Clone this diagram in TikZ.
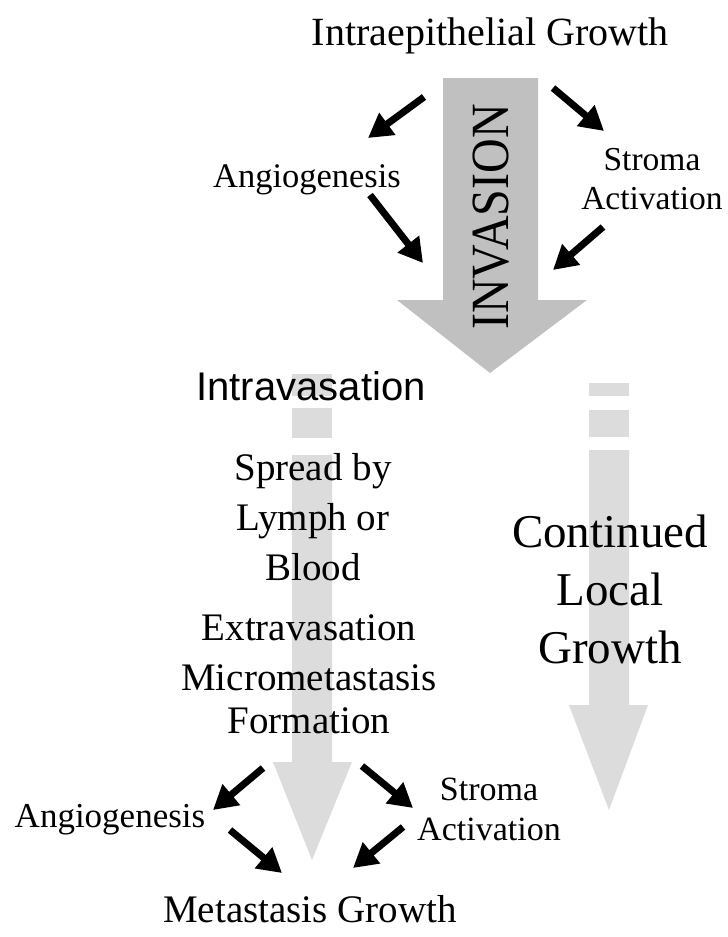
\documentclass[tikz,border=0pt]{standalone}
\usepackage{fontspec}
\setmainfont{Liberation Serif}
\newfontfamily\arialf{Liberation Sans}
\usetikzlibrary{arrows.meta}
\definecolor{biggray}{RGB}{192,192,192}
\definecolor{lightgray2}{RGB}{220,220,220}
\begin{document}
\begin{tikzpicture}[x=1pt,y=-1pt,
  txt/.style={inner sep=0pt, align=center, anchor=base},
  mid/.style={txt, font=\fontsize{39}{50}\selectfont},
  smalltxt/.style={txt, font=\fontsize{33.5}{39}\selectfont},
  bigtxt/.style={txt, font=\fontsize{47}{58}\selectfont},
  blk/.style={line width=7pt, -{Triangle[length=24pt,width=26pt]}},
]
\useasboundingbox (0,0) rectangle (728,937);
\fill[white] (0,0) rectangle (728,937);

% big INVASION arrow
\fill[biggray] (443,78) -- (538,78) -- (538,300) -- (587,300) -- (490,373) -- (397,300) -- (443,300) -- cycle;
\node[inner sep=0pt, rotate=90, font=\fontsize{48}{48}\selectfont] (inv) at (491,217) {\scalebox{1}[1.12]{INVASION}};

% left dashed arrow
\fill[lightgray2] (292,374) rectangle (332,396);
\fill[lightgray2] (292,408) rectangle (332,438);
\fill[lightgray2] (292,455) -- (332,455) -- (332,762) -- (352,762) -- (312,860) -- (273,762) -- (292,762) -- cycle;

% right dashed arrow
\fill[lightgray2] (589,383) rectangle (629,396);
\fill[lightgray2] (589,410) rectangle (629,437);
\fill[lightgray2] (589,450) -- (629,450) -- (629,705) -- (648,705) -- (609,810) -- (569,705) -- (589,705) -- cycle;

% texts
\node[txt, font=\fontsize{40}{46}\selectfont] (top) at (490,45) {Intraepithelial Growth};
\node[smalltxt, font=\fontsize{34.5}{39}\selectfont] (ang1) at (307,187) {Angiogenesis};
\node[smalltxt] (str1) at (652,209) {Stroma\\Activation};
\node[txt, font=\arialf\fontsize{40}{46}\selectfont] (intra) at (311,400) {Intravasation};
\node[mid] (spread) at (313,580) {Spread by\\Lymph or\\Blood};
\node[mid] (extra) at (309,640) {Extravasation};
\node[txt, font=\fontsize{39}{43}\selectfont] (micro) at (309,733) {Micrometastasis\\Formation};
\node[bigtxt] (cont) at (610,663) {Continued\\Local\\Growth};
\node[txt, font=\fontsize{35}{40}\selectfont] (ang2) at (110,827) {Angiogenesis};
\node[txt, font=\fontsize{34}{40}\selectfont] (str2) at (489,840) {Stroma\\Activation};
\node[mid] (meta) at (310,922) {Metastasis Growth};

% black arrows (top)
\coordinate (a1s) at (424,97);  \coordinate (a1e) at (368,138);
\coordinate (a2s) at (370,195); \coordinate (a2e) at (423,263);
\coordinate (a3s) at (553,88);  \coordinate (a3e) at (604,131);
\coordinate (a4s) at (603,227); \coordinate (a4e) at (553,270);
\draw[blk] (a1s) -- (a1e);
\draw[blk] (a2s) -- (a2e);
\draw[blk] (a3s) -- (a3e);
\draw[blk] (a4s) -- (a4e);

% black arrows (bottom)
\coordinate (b1s) at (263,768); \coordinate (b1e) at (213,810);
\coordinate (b2s) at (230,830); \coordinate (b2e) at (282,873);
\coordinate (b3s) at (362,766); \coordinate (b3e) at (413,808);
\coordinate (b4s) at (403,827); \coordinate (b4e) at (353,868);
\draw[blk] (b1s) -- (b1e);
\draw[blk] (b2s) -- (b2e);
\draw[blk] (b3s) -- (b3e);
\draw[blk] (b4s) -- (b4e);
\end{tikzpicture}
\end{document}
